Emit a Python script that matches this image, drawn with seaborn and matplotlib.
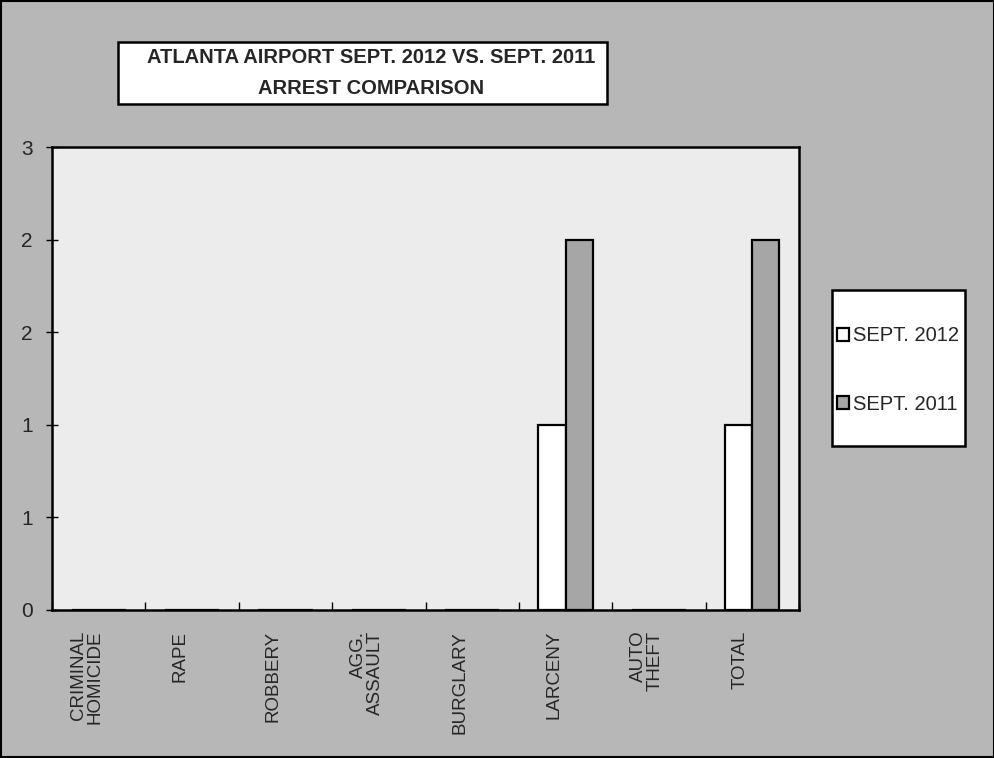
import math
import pandas as pd
import matplotlib
matplotlib.use("Agg")
import matplotlib.pyplot as plt
import matplotlib.transforms as mtransforms
from matplotlib.patches import Rectangle
from matplotlib.ticker import FuncFormatter, FixedLocator
import seaborn as sns

sns.set_theme(style="white")
plt.rcParams["font.family"] = ["Liberation Sans", "DejaVu Sans"]

# dati
categorie = ["CRIMINAL\nHOMICIDE", "RAPE", "ROBBERY", "AGG.\nASSAULT",
             "BURGLARY", "LARCENY", "AUTO\nTHEFT", "TOTAL"]
sept_2012 = [0, 0, 0, 0, 0, 1, 0, 1]
sept_2011 = [0, 0, 0, 0, 0, 2, 0, 2]
serie = ["SEPT. 2012", "SEPT. 2011"]
y_ticks = [0, 0.5, 1, 1.5, 2, 2.5]

df = pd.DataFrame({
    "categoria": categorie * 2,
    "periodo": [serie[0]] * len(categorie) + [serie[1]] * len(categorie),
    "arresti": sept_2012 + sept_2011,
})

fig = plt.figure(figsize=(9.95, 7.58), dpi=100, facecolor="#b7b7b7")
ax = fig.add_axes([0.0523, 0.1953, 0.7507, 0.6107])
ax.set_facecolor("#ececec")

sns.barplot(data=df, x="categoria", y="arresti", hue="periodo",
            palette={serie[0]: "white", serie[1]: "#a6a6a6"},
            edgecolor="black", linewidth=1.6, width=0.58, gap=0,
            ax=ax, legend=True)

ax.set_xlim(-0.5, len(categorie) - 0.5)
ax.set_ylim(0, 2.5)
ax.set_xlabel("")
ax.set_ylabel("")

# etichette asse y arrotondate come in Excel (0.5 -> 1)
ax.yaxis.set_major_locator(FixedLocator(y_ticks))
ax.yaxis.set_major_formatter(FuncFormatter(lambda v, p: str(int(math.floor(v + 0.5)))))
ax.tick_params(axis="y", direction="inout", length=8, width=1, color="black",
               labelsize=15, pad=10, left=True)

ax.set_xticks(range(len(categorie)))
ax.set_xticklabels(categorie, rotation=90, va="top", ha="center",
                   multialignment="right", fontsize=13.5, linespacing=1.0)
ax.tick_params(axis="x", length=0, pad=15)
ax.set_xticks([i - 0.5 for i in range(len(categorie) + 1)], minor=True)
ax.tick_params(axis="x", which="minor", direction="in", length=6, width=1,
               color="black", bottom=True)
# nell'originale le etichette sono spostate un po' a sinistra
sposta = mtransforms.ScaledTranslation(-0.12, 0, fig.dpi_scale_trans)
for lab in ax.get_xticklabels():
    lab.set_transform(lab.get_transform() + sposta)

for s in ax.spines.values():
    s.set_color("black")
    s.set_linewidth(1.8)

# legenda: cornice disegnata a parte per avere i margini dell'originale
handles, labels = ax.get_legend_handles_labels()
ax.get_legend().remove()
fig.patches.append(Rectangle((832 / 995, 1 - 446 / 758), 133 / 995, 156 / 758,
                             transform=fig.transFigure, facecolor="white",
                             edgecolor="black", linewidth=1.8, zorder=1))
leg = fig.legend(handles, labels, loc="center",
                 bbox_to_anchor=(898 / 995, 1 - 370 / 758), frameon=False,
                 fontsize=14.5, labelspacing=2.45, borderpad=0,
                 handlelength=0.6, handleheight=0.6, handletextpad=0.2,
                 borderaxespad=0)
leg.set_zorder(3)

# box del titolo
fig.patches.append(Rectangle((118 / 995, 1 - 104 / 758), 489 / 995, 62 / 758,
                             transform=fig.transFigure, facecolor="white",
                             edgecolor="black", linewidth=1.8, zorder=1))
fig.text(371 / 995, 1 - 73 / 758,
         "ATLANTA AIRPORT SEPT. 2012 VS. SEPT. 2011\nARREST COMPARISON",
         ha="center", va="center", fontsize=14.5, fontweight="bold",
         linespacing=1.75, zorder=2)

# bordo esterno
fig.patches.append(Rectangle((0.001, 0.001), 0.998, 0.998, transform=fig.transFigure,
                             fill=False, edgecolor="black", linewidth=1.5))

plt.savefig("out.png", dpi=100, facecolor=fig.get_facecolor())
plt.close()
